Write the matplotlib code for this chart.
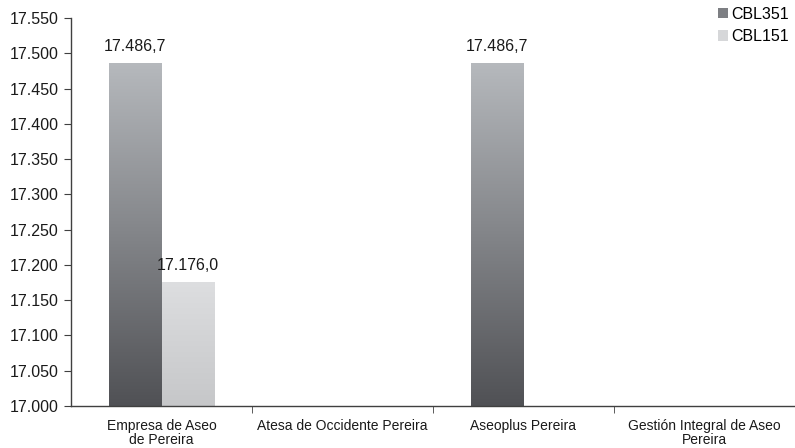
import matplotlib

matplotlib.use("Agg")

import matplotlib.pyplot as plt
import numpy as np
from matplotlib.colors import LinearSegmentedColormap
from matplotlib.patches import Patch

plt.rcParams["font.family"] = ["Liberation Sans", "DejaVu Sans"]

# ── Data ──────────────────────────────────────────────────
categories = [
    "Empresa de Aseo\nde Pereira",
    "Atesa de Occidente Pereira",
    "Aseoplus Pereira",
    "Gestión Integral de Aseo\nPereira",
]
series_names = ["CBL351", "CBL151"]
cbl351 = [17486.7, None, 17486.7, None]
cbl151 = [17176.0, None, None, None]
y_ticks = [17000, 17050, 17100, 17150, 17200, 17250, 17300, 17350, 17400, 17450, 17500, 17550]

# gradients: (bottom colour, top colour)
gradients = {
    "CBL351": ("#505155", "#b6b9bd"),
    "CBL151": ("#c6c7c9", "#dddee0"),
}
legend_colors = {"CBL351": "#7d7f83", "CBL151": "#d6d7d9"}

Y_MIN, Y_MAX = 17000, 17550


def fmt_es(v, decimals=0):
    s = f"{v:,.{decimals}f}"
    return s.replace(",", "X").replace(".", ",").replace("X", ".")


fig = plt.figure(figsize=(7.95, 4.48), dpi=100)
ax = fig.add_axes([71 / 795, 1 - 406 / 448, 1 - 71 / 795, (406 - 18) / 448])

x = np.arange(len(categories))
width = 0.29
offsets = [-width / 2, width / 2]

for name, values, off in zip(series_names, [cbl351, cbl151], offsets):
    cmap = LinearSegmentedColormap.from_list(name, list(gradients[name]))
    for xi, v in zip(x, values):
        if v is None:
            continue
        bars = ax.bar(xi + off, v - Y_MIN, width, bottom=Y_MIN, facecolor="none",
                      edgecolor="none")
        rect = bars[0]
        grad = np.linspace(0, 1, 256).reshape(-1, 1)
        left = xi + off - width / 2
        img = ax.imshow(grad, cmap=cmap, origin="lower", aspect="auto",
                        extent=[left, left + width, Y_MIN, v], zorder=2)
        img.set_clip_path(rect)
        ax.text(xi + off, v + 12, fmt_es(v, 1), ha="center", va="bottom",
                fontsize=11.5, color="#1a1a1a")

ax.set_xlim(-0.5, len(categories) - 0.5)
ax.set_ylim(Y_MIN, Y_MAX)
ax.set_yticks(y_ticks)
ax.set_yticklabels([fmt_es(t) for t in y_ticks], fontsize=11.5, color="#1a1a1a")

# category labels centred, ticks at category boundaries
ax.set_xticks(x)
ax.set_xticklabels(categories, fontsize=10, color="#1a1a1a", linespacing=1.0)
ax.tick_params(axis="x", length=0, pad=9)
ax.set_xticks(np.arange(0.5, len(categories) - 0.5, 1), minor=True)
ax.tick_params(axis="x", which="minor", length=5, color="#404040")
ax.tick_params(axis="y", length=5, color="#404040", pad=4)

for side in ["top", "right"]:
    ax.spines[side].set_visible(False)
for side in ["left", "bottom"]:
    ax.spines[side].set_color("#404040")
    ax.spines[side].set_linewidth(1.0)

handles = [Patch(facecolor=legend_colors[n], edgecolor="none", label=n) for n in series_names]
ax.legend(handles=handles, loc="upper right", bbox_to_anchor=(1.0, 1.045), frameon=False,
          fontsize=11.5, handlelength=0.6, handleheight=0.6, handletextpad=0.2,
          labelspacing=0.45, borderaxespad=0.0)

fig.savefig("out.png", dpi=100)
